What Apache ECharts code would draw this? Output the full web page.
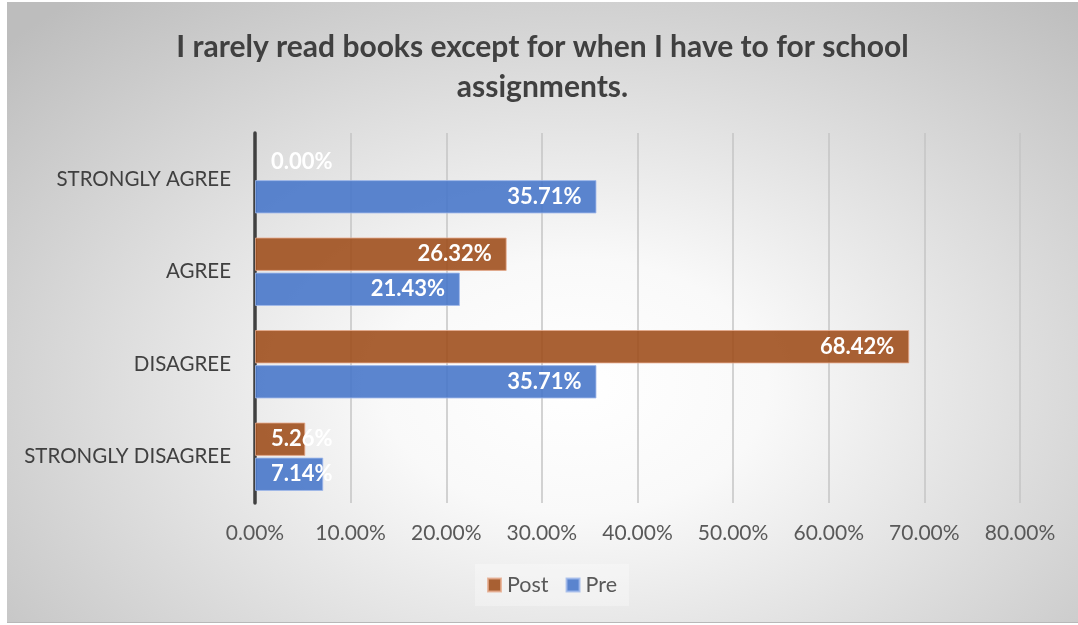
<!DOCTYPE html>
<html>
<head>
<meta charset="utf-8">
<script src="https://cdn.jsdelivr.net/npm/echarts@6/dist/echarts.min.js"></script>
<style>
  html, body { margin: 0; padding: 0; background: #ffffff; }
  #chart {
    position: absolute; left: 7px; top: 2px; width: 1071px; height: 620px;
    background: radial-gradient(ellipse 72% 82% at 53% 62%, #ffffff 0%, #f9f9f9 25%, #dddddd 60%, #bdbdbd 100%);
    border-bottom: 1px solid #b8b8b8;
  }
</style>
</head>
<body>
<div id="chart"></div>
<script>
// Survey responses, percent of students
const titleText = 'I rarely read books except for when I have to for school\nassignments.';
const categories = ['STRONGLY AGREE', 'AGREE', 'DISAGREE', 'STRONGLY DISAGREE'];
const postValues = [0.00, 26.32, 68.42, 5.26];
const preValues = [35.71, 21.43, 35.71, 7.14];
const seriesNames = ['Post', 'Pre'];
const axisMax = 80;
const axisStep = 10;

const FONT = 'Lato';
const chart = echarts.init(document.getElementById('chart'), null, { renderer: 'canvas' });

// short bars cannot hold their label at the end, so it starts near the axis instead;
// an empty bar gets no outline
function labelledData(values) {
  return values.map(v => {
    const item = {
      value: v,
      label: v < 10 ? { position: 'insideLeft', distance: 16 } : { position: 'insideRight', distance: 15 }
    };
    if (v === 0) item.itemStyle = { borderWidth: 0 };
    return item;
  });
}

const labelStyle = {
  show: true,
  color: '#ffffff',
  fontFamily: FONT,
  fontWeight: 'bold',
  fontSize: 22,
  formatter: p => p.value.toFixed(2) + '%'
};

chart.setOption({
  backgroundColor: 'transparent',
  animation: false,
  title: {
    text: titleText,
    left: 'center',
    top: 20,
    textStyle: {
      fontFamily: FONT, fontWeight: 'bold', fontSize: 30, color: '#404040', lineHeight: 40
    }
  },
  legend: {
    data: seriesNames,
    left: 468,
    top: 562,
    padding: [10, 12],
    backgroundColor: 'rgba(255,255,255,0.3)',
    itemWidth: 13,
    itemHeight: 13,
    itemGap: 17,
    icon: 'rect',
    textStyle: { fontFamily: FONT, fontSize: 21.5, color: '#595959', padding: [0, 0, 0, 1] }
  },
  grid: { left: 248, right: 58, top: 131, bottom: 119, containLabel: false },
  xAxis: {
    type: 'value',
    min: 0,
    max: axisMax,
    interval: axisStep,
    axisLine: { show: false },
    axisTick: { show: false },
    splitLine: { show: true, lineStyle: { color: '#c4c4c4', width: 1.5 } },
    axisLabel: {
      margin: 20,
      fontFamily: FONT, fontSize: 21, color: '#595959',
      formatter: v => v.toFixed(2) + '%'
    }
  },
  yAxis: {
    type: 'category',
    data: categories,
    inverse: true,
    axisLine: { show: true, lineStyle: { color: '#404040', width: 3.5 } },
    axisTick: { show: false },
    axisLabel: { margin: 24, fontFamily: FONT, fontSize: 20.5, color: '#404040' }
  },
  series: [
    {
      name: seriesNames[0],
      type: 'bar',
      data: labelledData(postValues),
      barGap: '5%',
      barCategoryGap: '26%',
      itemStyle: { color: 'rgba(160,80,30,0.9)', borderColor: 'rgba(230,170,140,0.8)', borderWidth: 1 },
      label: labelStyle
    },
    {
      name: seriesNames[1],
      type: 'bar',
      data: labelledData(preValues),
      barGap: '5%',
      barCategoryGap: '26%',
      itemStyle: { color: 'rgba(73,120,202,0.9)', borderColor: 'rgba(160,185,235,0.8)', borderWidth: 1 },
      label: labelStyle
    }
  ]
});
</script>
</body>
</html>
